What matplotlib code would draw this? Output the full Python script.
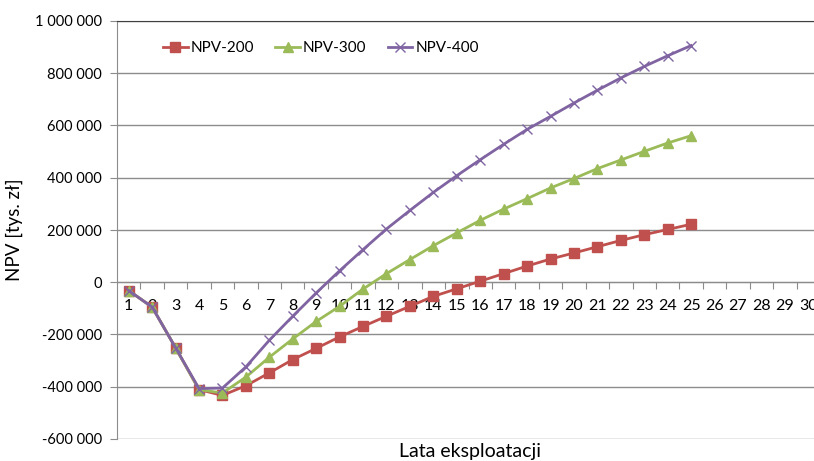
import matplotlib.pyplot as plt
import numpy as np

plt.rcParams['font.family'] = ['Lato', 'DejaVu Sans']

lata = list(range(1, 26))
npv_200 = [-32, -95, -251, -411, -433, -396, -347, -296, -253, -209, -169, -130, -92,
           -54, -25, 4, 33, 62, 89, 112, 136, 160, 182, 202, 222]
npv_300 = [-32, -95, -251, -411, -424, -363, -287, -217, -150, -92, -26, 33, 87,
           140, 189, 237, 280, 320, 361, 397, 435, 468, 501, 533, 561]
npv_400 = [-32, -95, -251, -407, -405, -324, -222, -130, -41, 44, 125, 204, 275,
           344, 408, 469, 528, 585, 635, 686, 735, 782, 826, 867, 906]
kategorie = list(range(1, 31))
y_ticks = [-600000, -400000, -200000, 0, 200000, 400000, 600000, 800000, 1000000]


def fmt(v):
    s = f'{abs(v):,}'.replace(',', ' ')
    return ('-' if v < 0 else '') + s


fig = plt.figure(figsize=(8.14, 4.61), dpi=100)
ax = fig.add_axes([117 / 814, 22 / 461, 703 / 814, 418 / 461])

ax.plot(lata, np.array(npv_200) * 1000, color='#C0504D', lw=2.0, marker='s',
        ms=6.5, mec='#C0504D', label='NPV-200', zorder=3)
ax.plot(lata, np.array(npv_300) * 1000, color='#9BBB59', lw=2.0, marker='^',
        ms=7, mec='#9BBB59', label='NPV-300', zorder=3)
ax.plot(lata, np.array(npv_400) * 1000, color='#8064A2', lw=2.0, marker='x',
        ms=7, mew=1.0, label='NPV-400', zorder=3)

ax.set_xlim(0.5, 30.5)
ax.set_ylim(-600000, 1000000)
ax.set_yticks(y_ticks)
ax.set_yticklabels([fmt(v) for v in y_ticks])
ax.yaxis.grid(True, color='#8c8c8c', lw=1.0)
ax.set_axisbelow(True)

ax.spines['bottom'].set_position(('data', 0))
ax.spines['bottom'].set_color('#8c8c8c')
ax.spines['left'].set_color('#8c8c8c')
ax.spines['right'].set_visible(False)
ax.spines['top'].set_color('#404040')
ax.spines['top'].set_linewidth(0.8)

ax.set_xticks(np.arange(1.5, 30.5, 1.0))
ax.set_xticklabels([])
ax.set_xticks(kategorie, minor=True)
ax.set_xticklabels([str(k) for k in kategorie], minor=True)
ax.tick_params(axis='x', which='major', direction='out', length=5, color='#8c8c8c')
ax.tick_params(axis='x', which='minor', length=0, pad=12, labelsize=11.5)
ax.tick_params(axis='y', direction='out', length=5, color='#8c8c8c', labelsize=10.5, pad=6)

ax.legend(loc='upper left', bbox_to_anchor=(0.046, 0.985), ncol=3, frameon=False,
          fontsize=11, handlelength=1.6, handletextpad=0.2, columnspacing=1.4)

fig.text(470 / 814, 1 - 451 / 461, 'Lata eksploatacji', ha='center', va='center', fontsize=14)
fig.text(14 / 814, 1 - 230 / 461, 'NPV [tys. zł]', ha='center', va='center',
         rotation=90, fontsize=13.5)

fig.savefig('out.png', dpi=100)
